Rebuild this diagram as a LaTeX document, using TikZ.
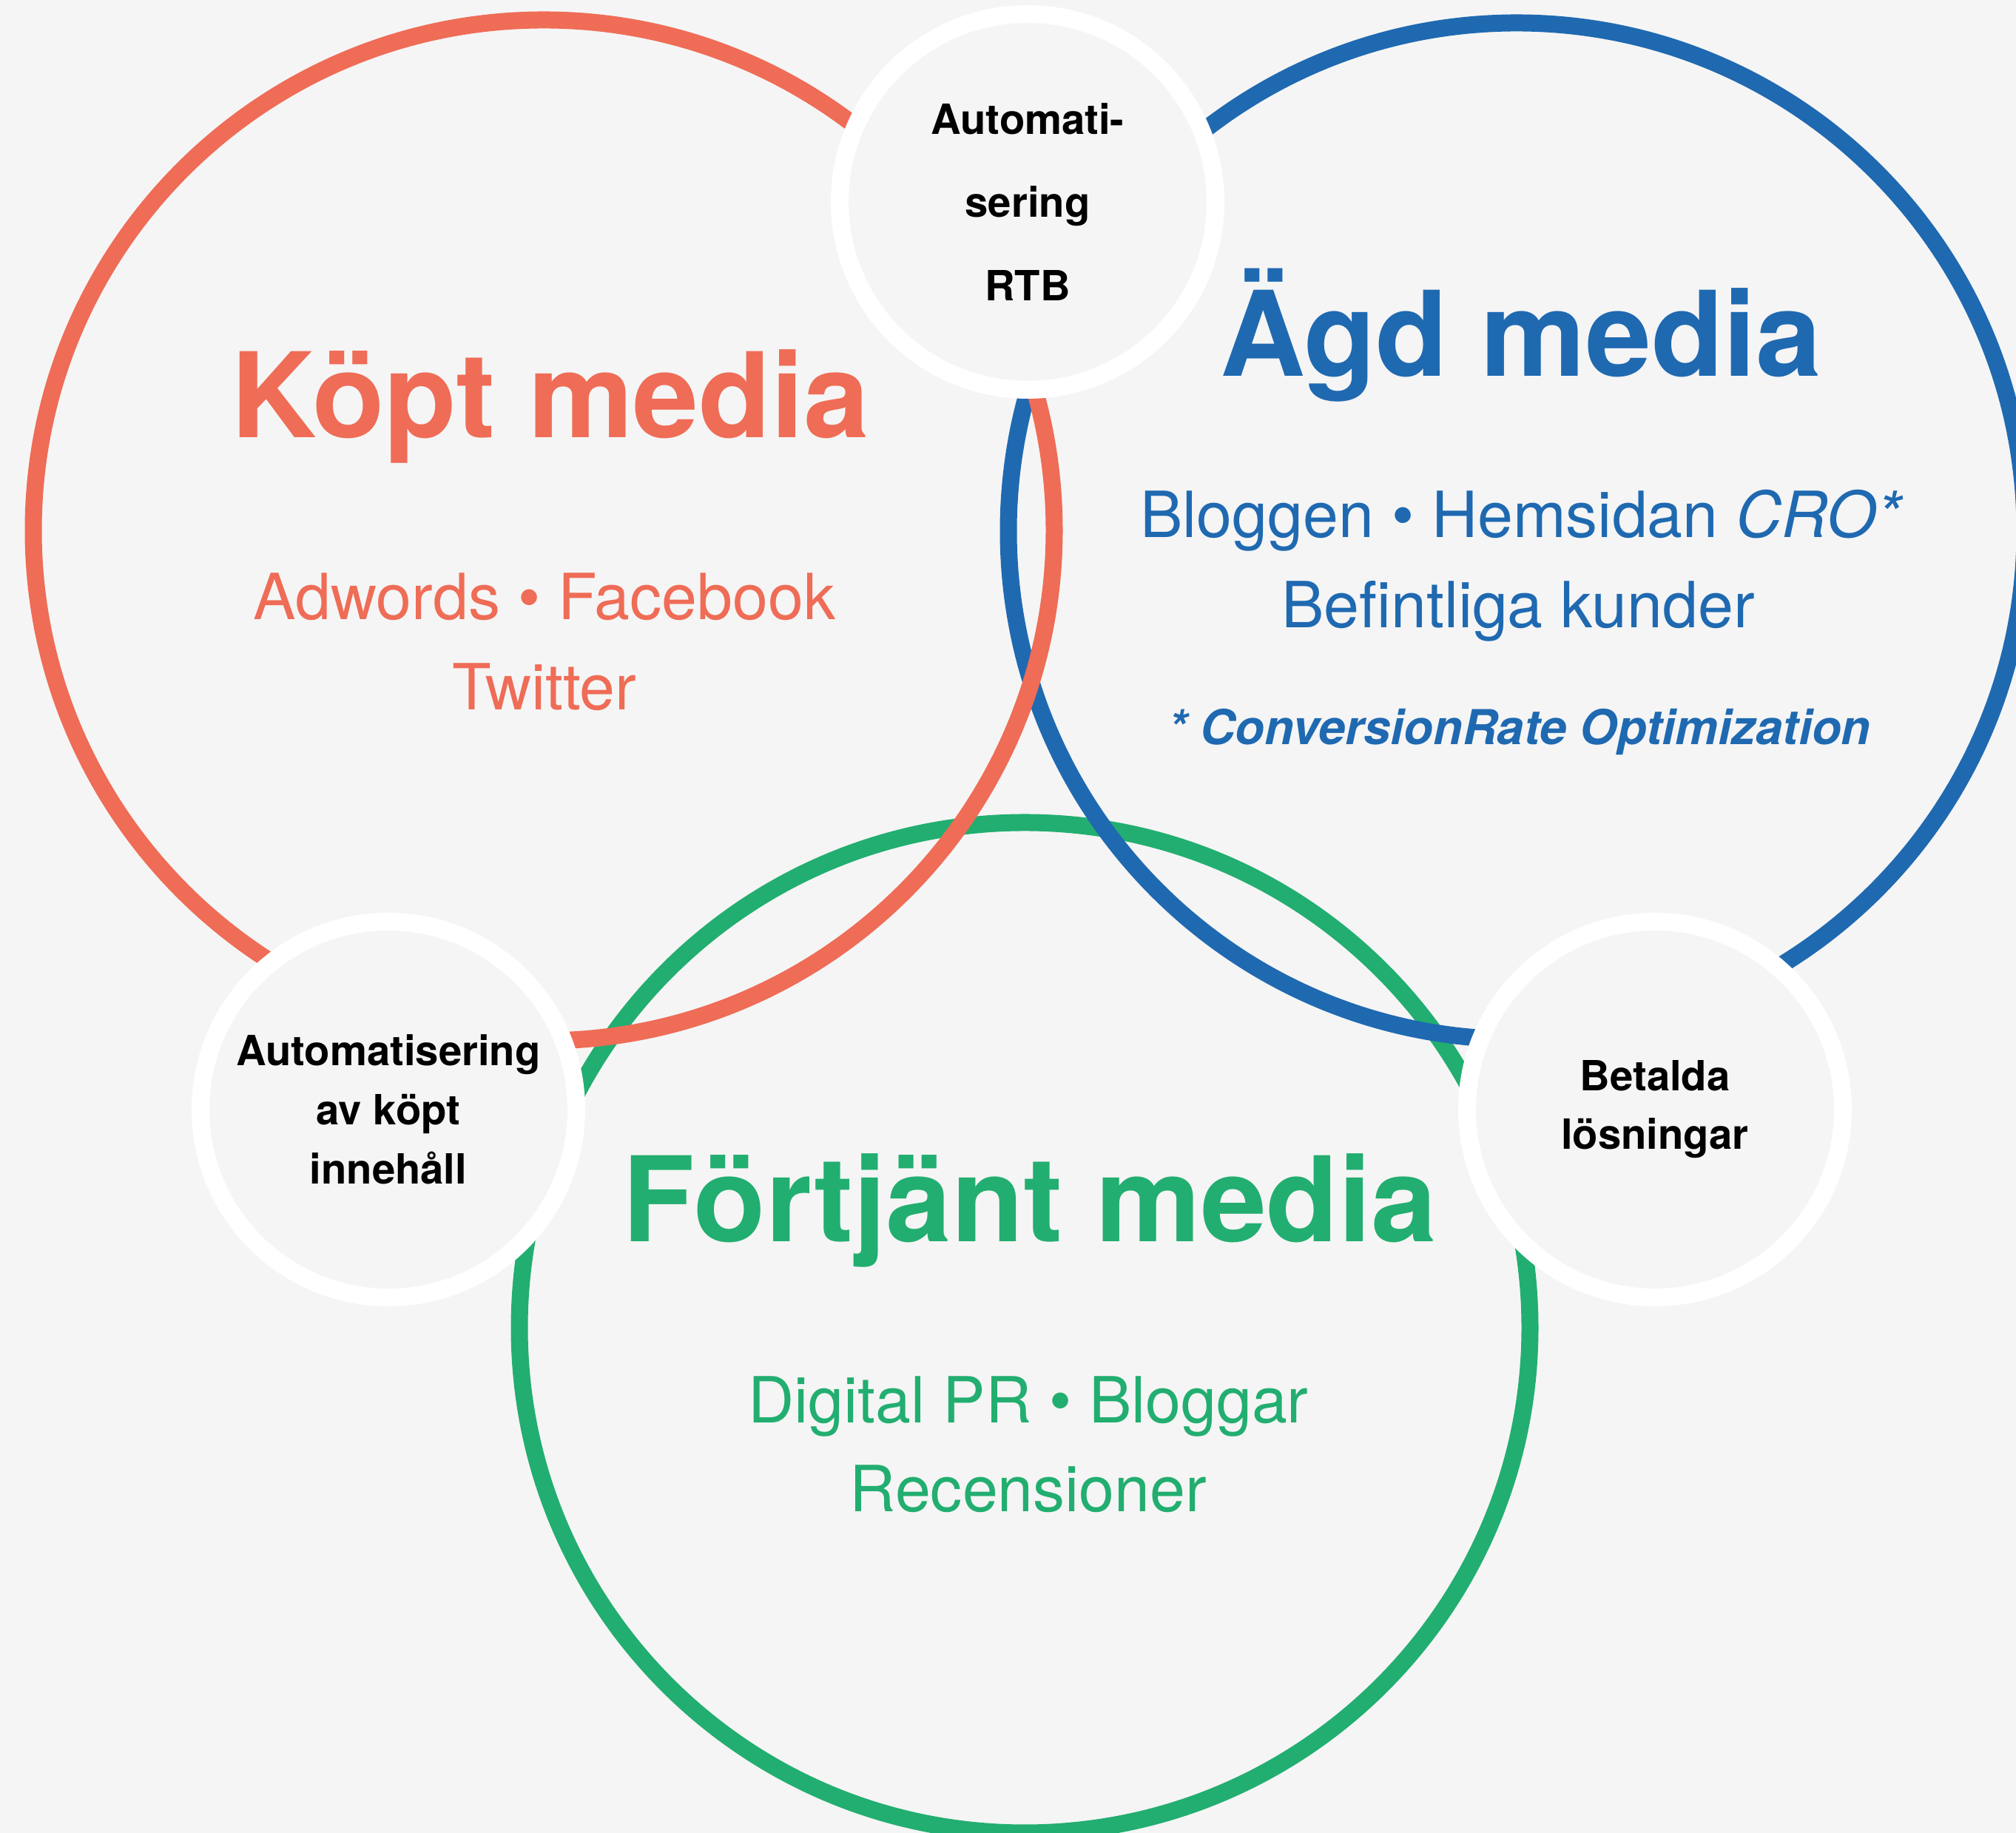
\documentclass[tikz,border=0pt]{standalone}
\usepackage{fontspec}
\setmainfont{TeX Gyre Heros}

\definecolor{koptred}{HTML}{EF6C56}
\definecolor{agdblue}{HTML}{1F69B1}
\definecolor{fortgreen}{HTML}{22AE70}
\definecolor{bgray}{HTML}{F5F5F5}

\begin{document}
\begin{tikzpicture}[
  ring/.style={circle, draw, line width=0.23cm, inner sep=0pt, minimum size=#1},
  hub/.style={circle, draw=white, fill=bgray, line width=0.24cm, inner sep=0pt,
    minimum size=5.08cm, align=center, font=\bfseries\fontsize{16}{#1}\selectfont},
  title/.style={anchor=base, font=\bfseries\fontsize{45.4}{54}\selectfont},
  item/.style={anchor=base, font=\fontsize{24.5}{29}\selectfont},
]

% Page
\useasboundingbox (0,0) rectangle (27.25,24.78);
\fill[bgray] (0,0) rectangle (27.25,24.78);

% The three media circles
\node[ring=13.66cm, fortgreen] (fortjant) at (13.85,6.83) {};
\node[ring=13.74cm, agdblue] (agd) at (20.50,17.60) {};
\node[ring=13.80cm, koptred] (kopt) at (7.35,17.61) {};

% Overlap circles
\node[hub=31.9pt] (rtb) at (13.89,22.05) {Automati-\\sering\\RTB};
\node[hub=22.8pt] (autokop) at (5.25,9.78) {Automatisering\\av köpt\\innehåll};
\node[hub=22.5pt] (betalda) at (22.37,9.78) {Betalda\\lösningar};

% Köpt media
\node[title, koptred] (kopttitle) at (7.44,18.86) {Köpt media};
\node[item, koptred] (koptline1) at (7.36,16.40) {Adwords • Facebook};
\node[item, koptred] (koptline2) at (7.36,15.18) {Twitter};

% Ägd media
\node[title, agdblue] (agdtitle) at (20.56,19.69) {Ägd media};
\node[item, agdblue] (agdline1) at (20.57,17.51) {Bloggen • Hemsidan \textit{CRO*}};
\node[item, agdblue] (agdline2) at (20.52,16.29) {Befintliga kunder};
\node[anchor=base, agdblue, font=\bfseries\itshape\fontsize{18.5}{22}\selectfont]
  (agdnote) at (20.54,14.71) {* ConversionRate Optimization};

% Förtjänt media
\node[title, fortgreen] (forttitle) at (13.92,7.99) {Förtjänt media};
\node[item, fortgreen] (fortline1) at (13.90,5.54) {Digital PR • Bloggar};
\node[item, fortgreen] (fortline2) at (13.90,4.34) {Recensioner};

\end{tikzpicture}
\end{document}
